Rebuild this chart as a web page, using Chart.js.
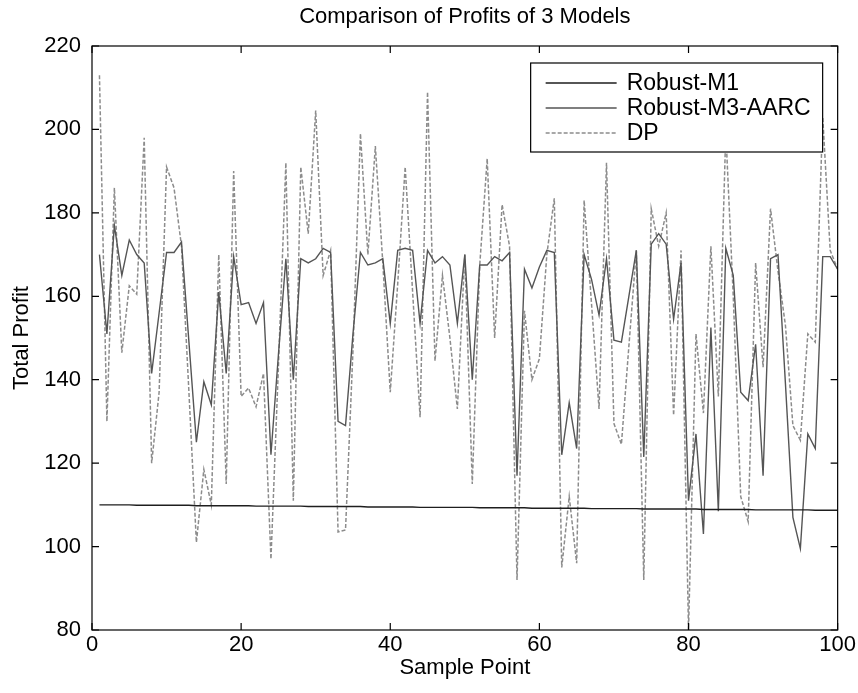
<!DOCTYPE html>
<html>
<head>
<meta charset="utf-8">
<script src="https://cdn.jsdelivr.net/npm/chart.js@4.4.1/dist/chart.umd.min.js"></script>
<style>
  html, body { margin: 0; padding: 0; background: #fff; }
  #wrap { width: 858px; height: 693px; }
</style>
</head>
<body>
<div id="wrap"><canvas id="profit-chart" width="858" height="693"></canvas></div>
<script>
Chart.defaults.font.family = "'Liberation Sans', Arial, Helvetica, sans-serif";
Chart.defaults.color = "#000";

// sample index 1..100
var samplePoints = Array.from({ length: 100 }, (_, i) => i + 1);

var xTicks = [0, 20, 40, 60, 80, 100];
var yTicks = [80, 100, 120, 140, 160, 180, 200, 220];

var seriesNames = ["Robust-M1", "Robust-M3-AARC", "DP"];

// Robust-M1: almost flat, slowly falling
var robustM1 = [
    110.0, 110.0, 110.0, 110.0, 110.0, 109.9, 109.9, 109.9, 109.9, 109.9,
    109.9, 109.9, 109.9, 109.8, 109.8, 109.8, 109.8, 109.8, 109.8, 109.8,
    109.8, 109.7, 109.7, 109.7, 109.7, 109.7, 109.7, 109.7, 109.6, 109.6,
    109.6, 109.6, 109.6, 109.6, 109.6, 109.6, 109.5, 109.5, 109.5, 109.5,
    109.5, 109.5, 109.5, 109.4, 109.4, 109.4, 109.4, 109.4, 109.4, 109.4,
    109.4, 109.3, 109.3, 109.3, 109.3, 109.3, 109.3, 109.3, 109.2, 109.2,
    109.2, 109.2, 109.2, 109.2, 109.2, 109.2, 109.1, 109.1, 109.1, 109.1,
    109.1, 109.1, 109.1, 109.0, 109.0, 109.0, 109.0, 109.0, 109.0, 109.0,
    109.0, 108.9, 108.9, 108.9, 108.9, 108.9, 108.9, 108.9, 108.8, 108.8,
    108.8, 108.8, 108.8, 108.8, 108.8, 108.8, 108.7, 108.7, 108.7, 108.7
];

var robustM3 = [
    170, 151, 177, 165, 173.5, 170, 168, 141.5, 156, 170.5,
    170.5, 173, 149, 125, 139.5, 134, 161, 141.5, 169.5, 158,
    158.5, 153.5, 158.5, 122, 146, 169, 140, 169, 168, 169,
    171.5, 170.5, 130, 129, 151, 170.5, 167.5, 168, 169, 153.5,
    171, 171.5, 171, 153.5, 171, 168, 169.5, 167.5, 153.5, 170,
    140, 167.5, 167.5, 169.5, 168.5, 170.5, 117, 166.5, 162, 167,
    171, 170.5, 122, 134.5, 123.5, 170, 164, 155.5, 169, 149.5,
    149, 160, 171, 121.5, 172.5, 175, 172.5, 154.5, 168, 111,
    127, 103, 152.5, 108.5, 171.5, 165, 137, 135, 148.5, 117,
    169, 170, 139, 107, 99.5, 127, 123.5, 169.5, 169.5, 166.5
];

var dpProfit = [
    213, 130, 186, 146.5, 162.5, 160.5, 198, 120, 137, 191,
    186, 172, 137, 101, 118.5, 110, 170, 115, 190, 136,
    138, 133.5, 141.5, 97, 143, 192, 111, 191, 175, 204.5,
    165, 171, 103.5, 104, 147, 199, 170, 196, 168, 137,
    163, 191, 161, 131, 209, 144.5, 165, 150, 133, 170,
    115, 167.5, 193, 150, 182, 172, 92, 156.5, 140, 145,
    170, 183.5, 95, 112, 96, 183, 158, 133, 192, 129.5,
    124.5, 148, 171, 92, 181, 172, 180, 131.5, 171, 80,
    151, 132, 172, 136, 199.5, 160, 112, 106, 168, 143,
    181, 166, 153, 129, 125.5, 151, 149, 203, 171, 166.5
];

var lineColors = ["#1e1e1e", "#555555", "#8c8c8c"];

// inward ticks, box and legend, MATLAB style
var matlabFrame = {
    id: "matlabFrame",
    afterDraw(chart) {
        const ctx = chart.ctx;
        const a = chart.chartArea;
        const xs = chart.scales.x, ys = chart.scales.y;
        const tl = 7;
        ctx.save();
        ctx.strokeStyle = "#000";
        ctx.lineWidth = 1.2;
        ctx.strokeRect(a.left, a.top, a.right - a.left, a.bottom - a.top);
        ctx.beginPath();
        xs.ticks.forEach(t => {
            const px = xs.getPixelForValue(t.value);
            ctx.moveTo(px, a.bottom); ctx.lineTo(px, a.bottom - tl);
            ctx.moveTo(px, a.top); ctx.lineTo(px, a.top + tl);
        });
        ys.ticks.forEach(t => {
            const py = ys.getPixelForValue(t.value);
            ctx.moveTo(a.left, py); ctx.lineTo(a.left + tl, py);
            ctx.moveTo(a.right, py); ctx.lineTo(a.right - tl, py);
        });
        ctx.stroke();

        // legend box
        const bw = 292, bh = 89;
        const bx = a.right - 15 - bw, by = a.top + 17;
        ctx.fillStyle = "#fff";
        ctx.fillRect(bx, by, bw, bh);
        ctx.lineWidth = 1.2;
        ctx.strokeRect(bx, by, bw, bh);
        ctx.font = "23px 'Liberation Sans', Arial, sans-serif";
        ctx.textBaseline = "middle";
        ctx.fillStyle = "#000";
        chart.data.datasets.forEach((ds, i) => {
            const ry = by + 20 + i * 25;
            ctx.beginPath();
            ctx.strokeStyle = ds.borderColor;
            ctx.lineWidth = ds.borderWidth;
            ctx.setLineDash(ds.borderDash || []);
            ctx.moveTo(bx + 15, ry);
            ctx.lineTo(bx + 86, ry);
            ctx.stroke();
            ctx.setLineDash([]);
            ctx.fillText(ds.label, bx + 96, ry + 1);
        });
        ctx.restore();
    }
};

var chart1 = document.getElementById("profit-chart");
var mychart1 = new Chart(chart1, {
    type: "line",
    data: {
        labels: samplePoints,
        datasets: [{
            label: seriesNames[0],
            data: robustM1,
            borderColor: lineColors[0],
            borderWidth: 1.4,
            pointRadius: 0
        }, {
            label: seriesNames[1],
            data: robustM3,
            borderColor: lineColors[1],
            borderWidth: 1.4,
            pointRadius: 0
        }, {
            label: seriesNames[2],
            data: dpProfit,
            borderColor: lineColors[2],
            borderWidth: 1.5,
            borderDash: [4, 2],
            pointRadius: 0
        }]
    },
    options: {
        responsive: false,
        animation: false,
        tension: 0,
        layout: { padding: { left: 0, right: 17, top: 0, bottom: 0 } },
        plugins: {
            legend: { display: false },
            tooltip: { enabled: false },
            title: {
                display: true,
                fullSize: false,
                text: "Comparison of Profits of 3 Models",
                font: { size: 22, weight: "normal" },
                padding: { top: 4, bottom: 15.6 }
            }
        },
        scales: {
            x: {
                type: "linear",
                min: 0,
                max: 100,
                grid: { display: false, drawTicks: false },
                border: { display: false },
                afterBuildTicks: s => { s.ticks = xTicks.map(v => ({ value: v })); },
                afterFit: s => { s.height = 63; },
                ticks: { font: { size: 22 }, padding: 2, maxRotation: 0 },
                title: { display: true, text: "Sample Point", font: { size: 22 }, padding: { top: 0, bottom: 12 } }
            },
            y: {
                min: 80,
                max: 220,
                grid: { display: false, drawTicks: false },
                border: { display: false },
                afterBuildTicks: s => { s.ticks = yTicks.map(v => ({ value: v })); },
                afterFit: s => { s.width = 92; },
                ticks: { font: { size: 22 }, padding: 11 },
                title: { display: true, text: "Total Profit", font: { size: 22 }, padding: { top: 9, bottom: 0 } }
            }
        }
    },
    plugins: [matlabFrame]
});
</script>
</body>
</html>
